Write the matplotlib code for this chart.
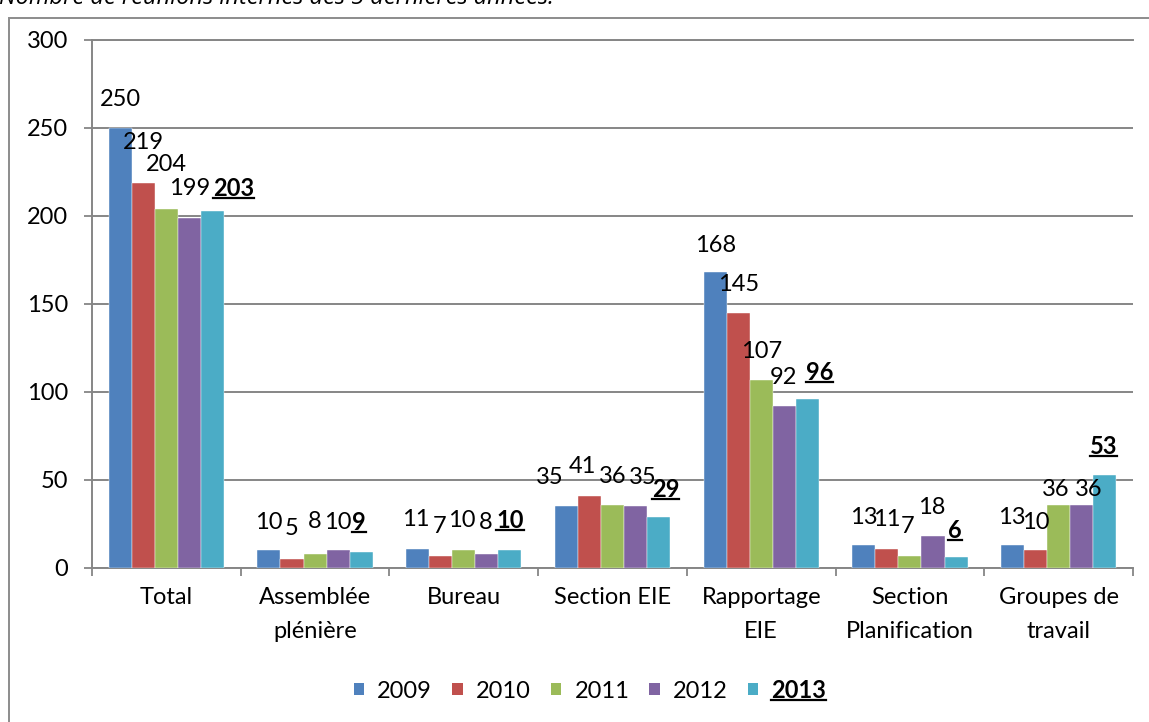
import matplotlib
matplotlib.use('Agg')
import matplotlib.pyplot as plt
from matplotlib.patches import Rectangle, Patch
from matplotlib.lines import Line2D

plt.rcParams['font.family'] = ['Lato', 'DejaVu Sans']

# data
categories = ['Total', 'Assemblée\nplénière', 'Bureau', 'Section EIE',
              'Rapportage\nEIE', 'Section\nPlanification', 'Groupes de\ntravail']
years = ['2009', '2010', '2011', '2012', '2013']
v2009 = [250, 10, 11, 35, 168, 13, 13]
v2010 = [219, 5, 7, 41, 145, 11, 10]
v2011 = [204, 8, 10, 36, 107, 7, 36]
v2012 = [199, 10, 8, 35, 92, 18, 36]
v2013 = [203, 9, 10, 29, 96, 6, 53]
series = [v2009, v2010, v2011, v2012, v2013]
y_ticks = [0, 50, 100, 150, 200, 250, 300]

colors = ['#4F81BD', '#C0504D', '#9BBB59', '#8064A2', '#4BACC6']
GRAY = '#868686'
FS = 17

# label nudges (pixels, relative to top centre of each bar), as placed in the original
nudge2009 = [(0, -28), (0, -28), (-2, -29), (-17, -29), (0, -27), (0, -28), (-1, -28)]
nudge2010 = [(0, -40), (0, -31), (-1, -29), (-7, -29), (0, -28), (0, -29), (0, -28)]
nudge2011 = [(0, -44), (0, -32), (-2, -30), (0, -28), (0, -28), (-2, -29), (-3, -15)]
nudge2012 = [(0, -29), (0, -28), (-1, -31), (7, -29), (-1, -29), (-1, -29), (7, -15)]
nudge2013 = [(21, -22), (-2, -30), (0, -30), (7, -27), (12, -27), (-1, -27), (-1, -28)]
nudges = [nudge2009, nudge2010, nudge2011, nudge2012, nudge2013]

W, H = 1149, 722
fig = plt.figure(figsize=(W / 100, H / 100), dpi=100)

# outer chart frame (cropped at right and bottom)
fig.add_artist(Rectangle((9 / W, -0.2), 1.5, (1 - 18 / H) + 0.2, transform=fig.transFigure,
                         fill=False, ec='#8c8c8c', lw=1.4))

# title, mostly cut off at the top (as in the original)
fig.text(-0.001, 1 - 4 / H, 'Nombre de réunions internes des 5 dernières années.',
         style='italic', fontsize=17, family=['Open Sans', 'DejaVu Sans'],
         va='baseline', ha='left')

ax = fig.add_axes([92 / W, 1 - 568 / H, (1133 - 92) / W, 528 / H])
bw = 0.155
bold_texts = []
for j, (vals, col, nud) in enumerate(zip(series, colors, nudges)):
    xs = [i + 0.5 + (j - 2) * bw for i in range(len(categories))]
    ax.bar(xs, vals, width=bw, color=col, edgecolor='white', linewidth=0.3, zorder=3)
    for x, v, (dx, dy) in zip(xs, vals, nud):
        t = ax.annotate(str(v), (x, v), xytext=(dx * 0.72, -dy * 0.72), textcoords='offset points',
                        ha='center', va='center', fontsize=FS,
                        fontweight='bold' if j == 4 else 'normal', zorder=4)
        if j == 4:
            bold_texts.append(t)

ax.set_xlim(0, len(categories))
ax.set_ylim(0, 300)
ax.set_yticks(y_ticks)
ax.yaxis.grid(True, color=GRAY, lw=1.4, zorder=0)
ax.set_axisbelow(True)
ax.tick_params(axis='y', direction='out', length=6, width=1.3, color=GRAY, pad=11, labelsize=FS)

ax.set_xticks(range(len(categories) + 1))
ax.set_xticklabels([])
ax.set_xticks([i + 0.5 for i in range(len(categories))], minor=True)
ax.set_xticklabels(categories, minor=True, fontsize=FS, linespacing=1.75)
ax.tick_params(axis='x', which='major', direction='out', length=6, width=1.3, color=GRAY)
ax.tick_params(axis='x', which='minor', length=0, pad=14)

for s in ['left', 'bottom', 'top']:
    ax.spines[s].set_color(GRAY)
    ax.spines[s].set_linewidth(1.4)
ax.spines['right'].set_visible(False)

handles = [Patch(facecolor=c, edgecolor='none') for c in colors]
leg = fig.legend(handles, years, loc='center', bbox_to_anchor=(590 / W, 1 - 690 / H), ncol=5,
                 frameon=False, fontsize=FS, handlelength=0.45, handleheight=0.45,
                 handletextpad=0.55, columnspacing=0.85)
leg.get_texts()[4].set_fontweight('bold')
bold_texts.append(leg.get_texts()[4])

# underline the 2013 values
fig.canvas.draw()
renderer = fig.canvas.get_renderer()
for t in bold_texts:
    bb = t.get_window_extent(renderer)
    y = bb.y0 + 2
    fig.add_artist(Line2D([bb.x0 / W, bb.x1 / W], [y / H, y / H], transform=fig.transFigure,
                          color='black', lw=1.6))

fig.savefig('out.png', dpi=100)
